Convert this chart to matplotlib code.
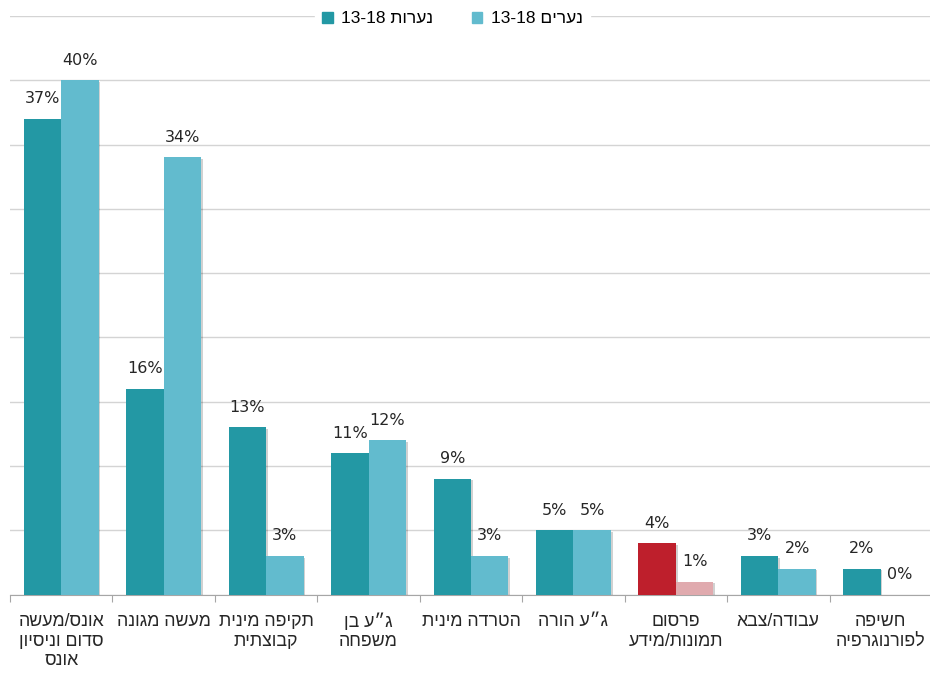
import re
import numpy as np
import matplotlib
matplotlib.use("Agg")
import matplotlib.pyplot as plt
import matplotlib.patheffects as pe
from matplotlib.patches import Patch

# ----------------------------------------------------------
# Data (values in %)
# ----------------------------------------------------------
categories = [
    "אונס/מעשה\nסדום וניסיון\nאונס",
    "מעשה מגונה",
    "תקיפה מינית\nקבוצתית",
    "ג״ע בן\nמשפחה",
    "הטרדה מינית",
    "ג״ע הורה",
    "פרסום\nתמונות/מידע",
    "עבודה/צבא",
    "חשיפה\nלפורנוגרפיה",
]
girls = [37, 16, 13, 11, 9, 5, 4, 3, 2]
boys = [40, 34, 3, 12, 3, 5, 1, 2, 0]
series_names = ["נערות 13-18", "נערים 13-18"]
highlight = 6  # category drawn in red

DARK = "#2398A4"
LIGHT = "#62BBCE"
RED = "#BE1F2C"
PINK = "#E0AAAE"


def rtl(s):
    """Small bidi helper: reverse Hebrew, keep numbers left-to-right."""
    lines = []
    for line in s.split("\n"):
        r = line[::-1]
        r = re.sub(r"[0-9A-Za-z%\-\.]+", lambda m: m.group(0)[::-1], r)
        lines.append(r)
    return "\n".join(lines)


plt.rcParams["font.family"] = ["DejaVu Sans"]
HEB = ["Liberation Sans", "DejaVu Sans"]

fig = plt.figure(figsize=(9.3, 6.73), dpi=100)
ax = fig.add_axes([10 / 930, 1 - 594.5 / 673, 922 / 930, (594.5 - 16) / 673])

n = len(categories)
x = np.arange(n) + 0.5
w = 0.366

dark_cols = [RED if i == highlight else DARK for i in range(n)]
light_cols = [PINK if i == highlight else LIGHT for i in range(n)]

shadow = [pe.SimplePatchShadow(offset=(1.2, -1.2), shadow_rgbFace="#000000", alpha=0.18), pe.Normal()]

b1 = ax.bar(x - w / 2, girls, width=w, color=dark_cols, zorder=3)
b2 = ax.bar(x + w / 2, boys, width=w, color=light_cols, zorder=3)
for b in list(b1) + list(b2):
    b.set_path_effects(shadow)

# value labels
for xi, v in zip(x - w / 2, girls):
    ax.annotate(f"{v}%", (xi, v), xytext=(0, 14.4), textcoords="offset points",
                ha="center", va="center", fontsize=11.5, color="#262626")
for xi, v in zip(x + w / 2, boys):
    ax.annotate(f"{v}%", (xi, v), xytext=(0, 14.4), textcoords="offset points",
                ha="center", va="center", fontsize=11.5, color="#262626")

# category labels below the axis
for xi, lab in zip(x, categories):
    ax.annotate(rtl(lab), (xi, 0), xytext=(0, -13.5), textcoords="offset points",
                ha="center", va="top", fontsize=12.8, color="#262626",
                family=HEB, linespacing=1.2)

ax.set_xlim(0, n)
ax.set_ylim(0, 45)
ax.set_yticks(np.arange(0, 46, 5))
ax.set_yticklabels([])
ax.tick_params(axis="y", length=0)
ax.grid(axis="y", color="#D4D4D4", linewidth=1, zorder=0)
ax.set_axisbelow(True)

ax.set_xticks(np.arange(n + 1))
ax.set_xticklabels([])
ax.tick_params(axis="x", direction="out", length=5, color="#A6A6A6")

for s in ["top", "right", "left"]:
    ax.spines[s].set_visible(False)
ax.spines["bottom"].set_color("#A6A6A6")

handles = [Patch(color=DARK), Patch(color=LIGHT)]
leg = ax.legend(handles, [rtl(t) for t in series_names], ncol=2, loc="center",
                bbox_to_anchor=(0.48, 0.995), frameon=True, fancybox=False,
                handlelength=0.6, handleheight=0.6, handletextpad=0.5,
                columnspacing=2.2, borderpad=0.4, prop={"family": HEB, "size": 12.5})
leg.get_frame().set_facecolor("white")
leg.get_frame().set_edgecolor("white")
leg.get_frame().set_alpha(1)

fig.savefig("out.png", dpi=100)
